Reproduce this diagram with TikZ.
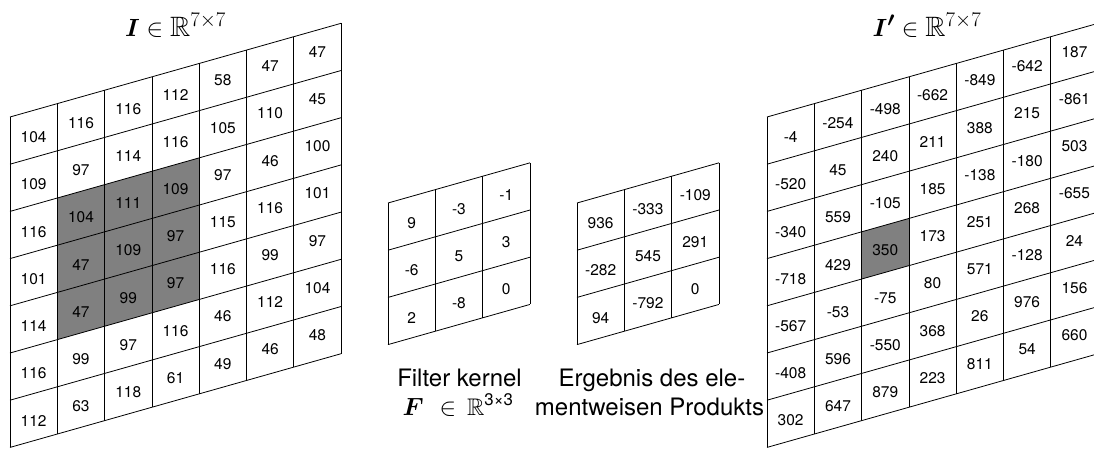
\documentclass[tikz,border=0pt]{standalone}
\usepackage{amsmath,amssymb}
\usepackage{fontspec}
\newfontfamily\hv{TeX Gyre Heros}
\definecolor{cellgray}{gray}{0.5}

% cell size and shear of the slanted grids
\def\cw{47.3}
\def\ch{47.2}
\def\sl{0.283}

\tikzset{
  cell/.style={font=\hv\fontsize{15.5}{18}\selectfont, inner sep=0pt},
  gridline/.style={line width=0.8pt, draw=black},
  caption/.style={font=\hv\fontsize{24}{29}\selectfont, anchor=base, inner sep=0pt},
  heading/.style={font=\fontsize{28}{34}\selectfont, anchor=base, inner sep=0pt},
}

% slanted grid: #1 x0, #2 y0 (top left corner), #3 columns, #4 rows
\newcommand\slantgrid[4]{%
  \foreach \i in {0,...,#3}
    \draw[gridline] ({#1+\i*\cw},{#2-\i*\cw*\sl}) -- ++(0,{#4*\ch});
  \foreach \j in {0,...,#4}
    \draw[gridline] ({#1},{#2+\j*\ch}) -- ++({#3*\cw},{-#3*\cw*\sl});
}

% shaded block of cells: #1 x0, #2 y0, columns #3..#4, rows #5..#6
\newcommand\slantblock[6]{%
  \fill[cellgray] ({#1+#3*\cw},{#2+#5*\ch-#3*\cw*\sl})
    -- ({#1+#4*\cw},{#2+#5*\ch-#4*\cw*\sl})
    -- ({#1+#4*\cw},{#2+#6*\ch-#4*\cw*\sl})
    -- ({#1+#3*\cw},{#2+#6*\ch-#3*\cw*\sl}) -- cycle;
}

% cell entries, given column by column: #1 name, #2 x0, #3 y0, #4 columns
\newcommand\slantvalues[4]{%
  \foreach \col [count=\i from 0] in {#4} {
    \foreach \v [count=\j from 0] in \col {
      \node[cell] (#1-\i-\j) at ({#2+(\i+0.5)*\cw},
        {#3+(\j+0.5)*\ch-(\i+0.5)*\cw*\sl+3.5-0.85*\i}) {\v};
    }
  }
}

\begin{document}
\begin{tikzpicture}[x=1pt,y=-1pt]
\useasboundingbox (0,0) rectangle (1094,448);
\clip (0,0) rectangle (1094,448);

% input image
\slantblock{10}{117}{1}{4}{2}{5}
\slantgrid{10}{117}{7}{7}
\slantvalues{I}{10}{117}{
  {104,109,116,101,114,116,112},
  {116,97,104,47,47,99,63},
  {116,114,111,109,99,97,118},
  {112,116,109,97,97,116,61},
  {58,105,97,115,116,46,49},
  {47,110,46,116,99,112,46},
  {47,45,100,101,97,104,48}}
\node[heading] (tI) at (175.5,36) {$\boldsymbol{I}\in\mathbb{R}^{7\times 7}$};

% filter kernel
\slantgrid{388}{203}{3}{3}
\slantvalues{F}{388}{203}{{9,-6,2},{-3,5,-8},{-1,3,0}}
\node[caption] (capF1) at (459.5,386) {Filter kernel};
\node[caption] (capF2) at (458,415)
  {$\boldsymbol{F}\hspace{9pt}\in\hspace{4pt}\mathbb{R}^{\text{\hv 3×3}}$};

% element-wise product
\slantgrid{577}{203}{3}{3}
\slantvalues{P}{577}{203}{{936,-282,94},{-333,545,-792},{-109,291,0}}
\node[caption] (capE1) at (652,386) {Ergebnis des ele-};
\node[caption] (capE2) at (649.5,415) {mentweisen Produkts};

% output image
\slantblock{767}{117}{2}{3}{3}{4}
\slantgrid{767}{117}{7}{7}
\slantvalues{O}{767}{117}{
  {-4,-520,-340,-718,-567,-408,302},
  {-254,45,559,429,-53,596,647},
  {-498,240,-105,350,-75,-550,879},
  {-662,211,185,173,80,368,223},
  {-849,388,-138,251,571,26,811},
  {-642,215,-180,268,-128,976,54},
  {187,-861,503,-655,24,156,660}}
\node[heading] (tO) at (927,36) {$\boldsymbol{I'}\in\mathbb{R}^{7\times 7}$};
\end{tikzpicture}
\end{document}
